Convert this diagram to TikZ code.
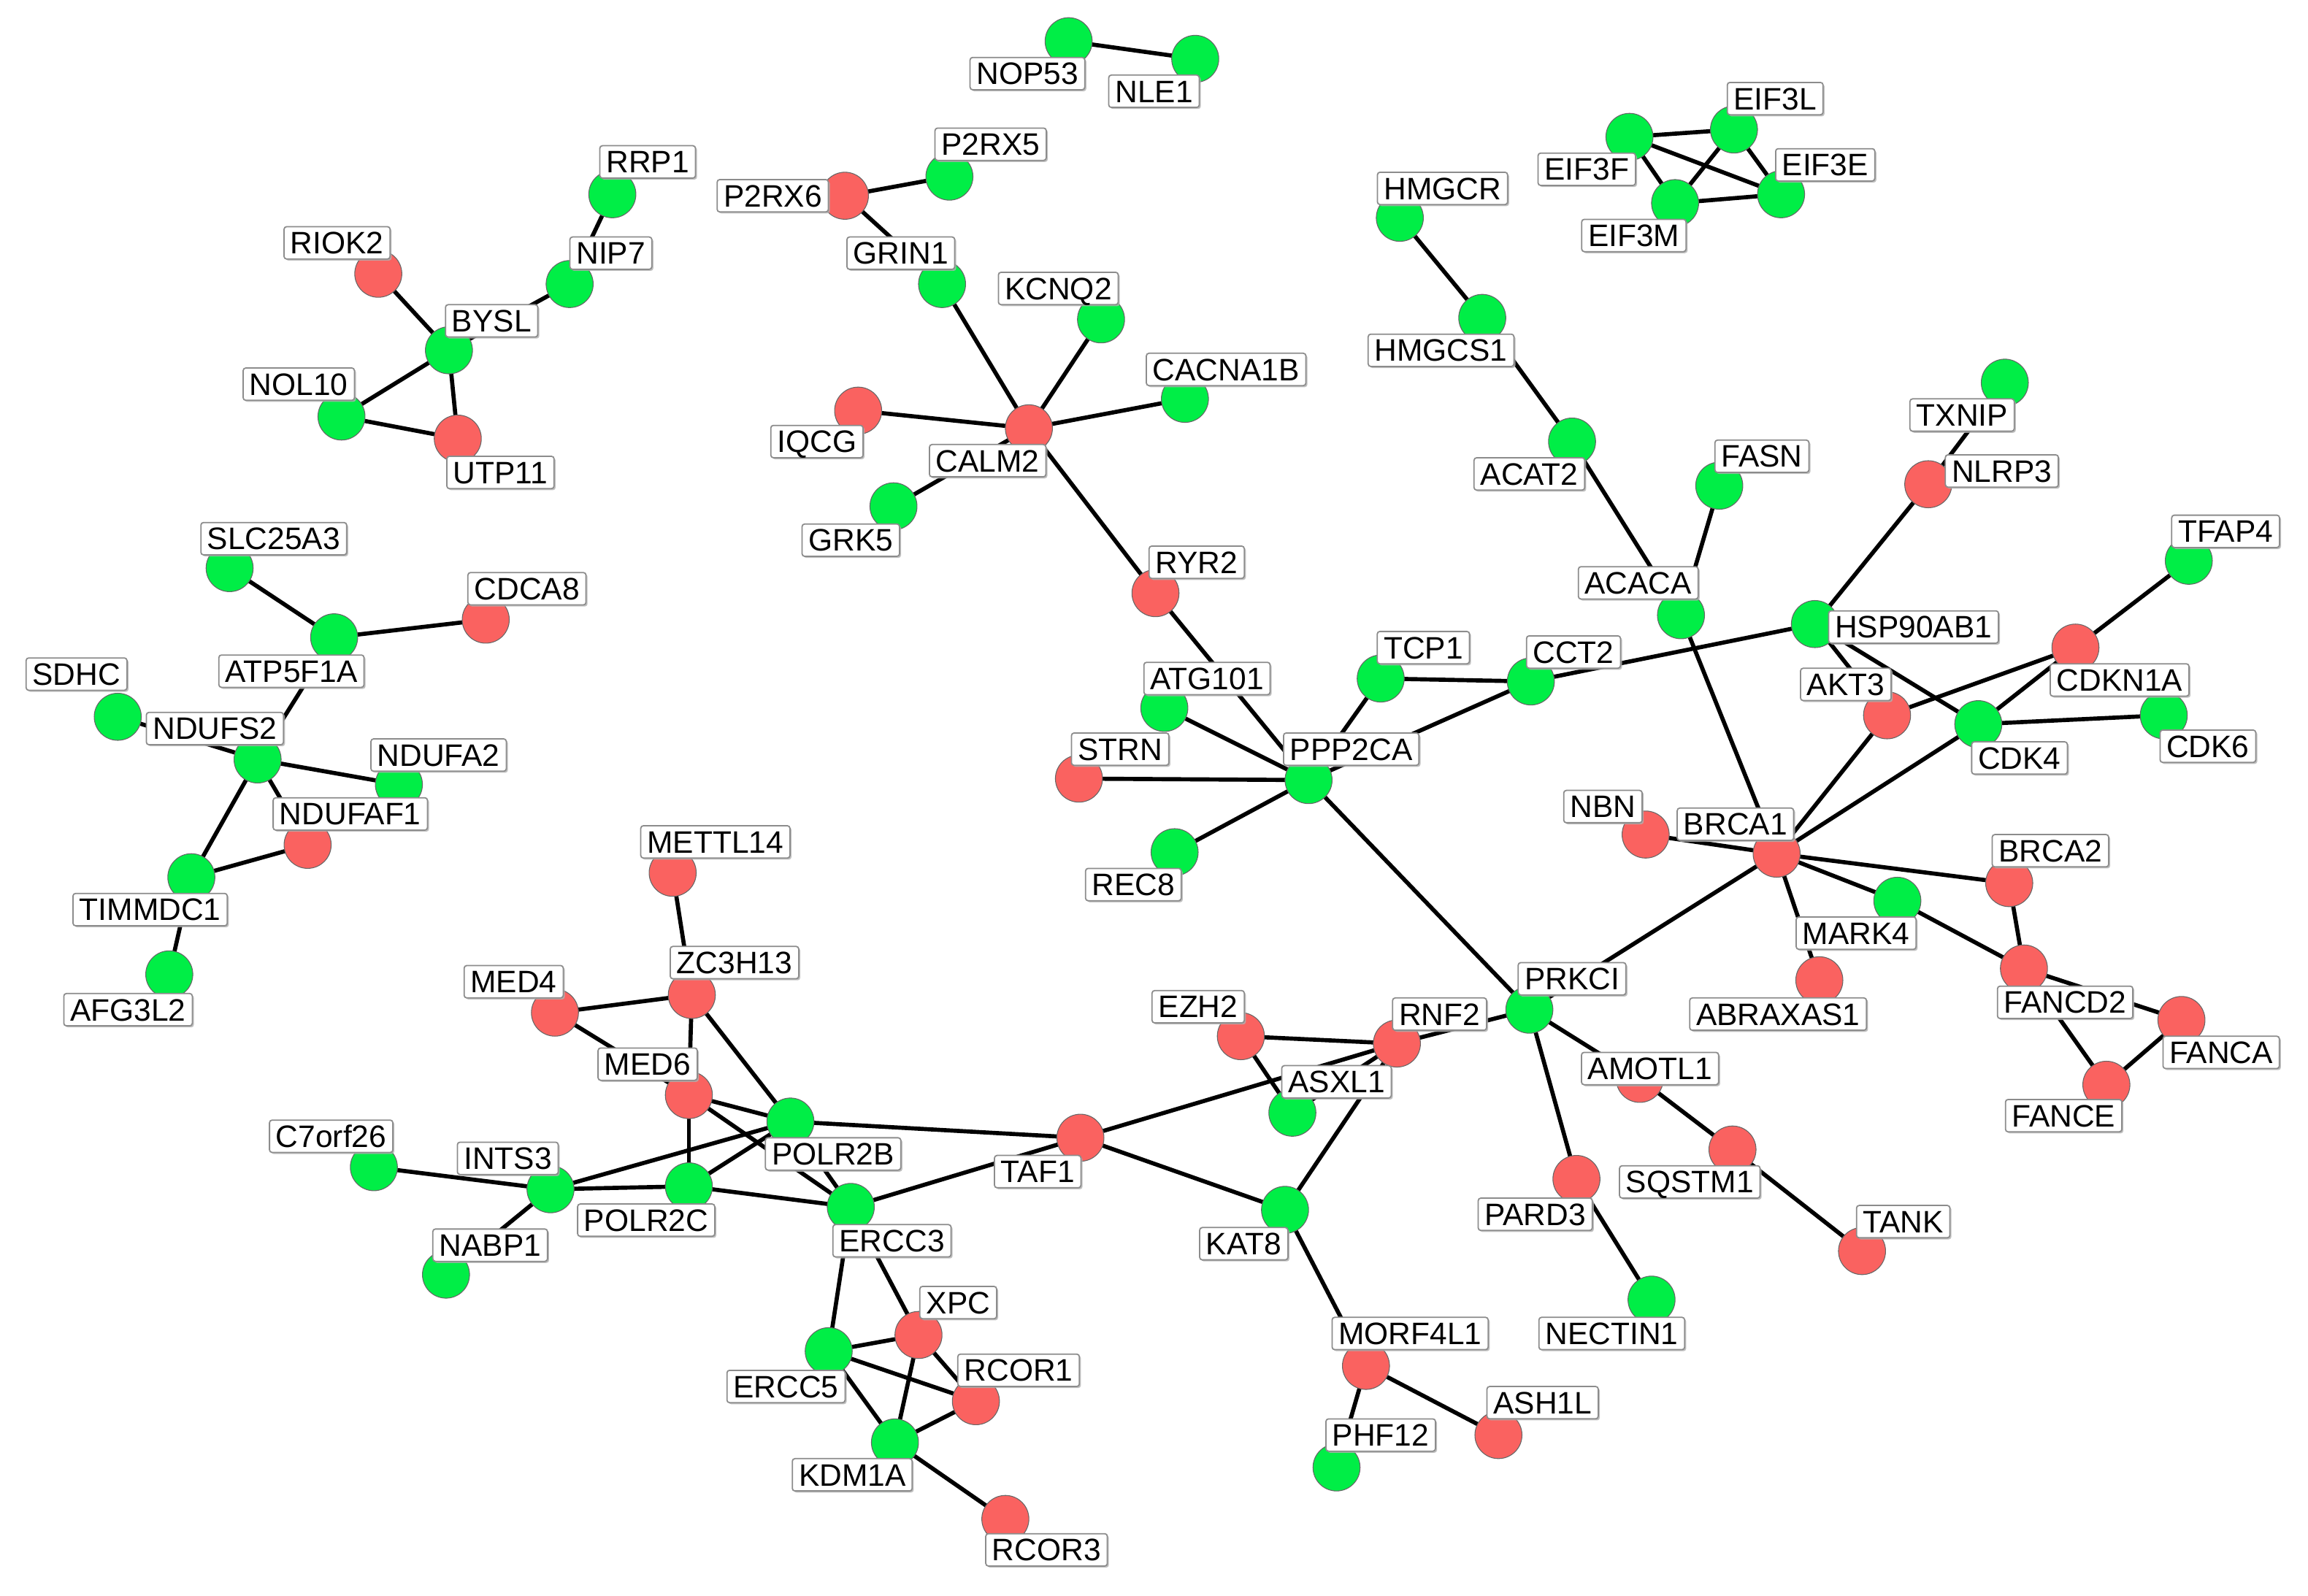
\documentclass[tikz,border=0pt]{standalone}
\usepackage{fontspec}
\setmainfont{Liberation Sans}
\usetikzlibrary{shadows}
\pgfdeclarelayer{bg}\pgfdeclarelayer{fg}
\pgfsetlayers{bg,main,fg}
\definecolor{gcol}{RGB}{0,238,70}
\definecolor{rcol}{RGB}{250,98,96}
\tikzset{
  g/.style={circle,draw=black!60,line width=0.3pt,fill=gcol,minimum size=0.64cm,inner sep=0pt},
  r/.style={circle,draw=black!60,line width=0.3pt,fill=rcol,minimum size=0.64cm,inner sep=0pt},
  lab/.style={draw=black!45,line width=0.5pt,fill=white,rounded corners=1pt,inner xsep=2.5pt,inner ysep=1.5pt,
     font=\fontsize{12}{13}\selectfont,text height=9pt,text depth=0.5pt,
     drop shadow={shadow xshift=0.6pt,shadow yshift=-0.6pt,fill=black!30,opacity=0.8}},
  e/.style={line width=1.6pt,black}
}
\newcommand\gn[7]{\node[#4] (#1) at (#2,#3) {};
  \begin{pgfonlayer}{fg}\node[lab] (#1-l) at (#5,#6) {#7};\end{pgfonlayer}}
\begin{document}
\begin{tikzpicture}[x=0.02cm,y=-0.02cm]
\useasboundingbox (0,0) rectangle (1568,1084);
\gn{NOP53}{726}{28}{g}{698}{50}{NOP53}
\gn{NLE1}{812}{40}{g}{784}{62}{NLE1}
\gn{EIF3L}{1178}{88}{g}{1206}{67}{EIF3L}
\gn{EIF3F}{1107}{93}{g}{1078}{115}{EIF3F}
\gn{EIF3E}{1210}{132}{g}{1240}{112}{EIF3E}
\gn{EIF3M}{1138}{138}{g}{1110}{160}{EIF3M}
\gn{RRP1}{416}{132}{g}{440}{110}{RRP1}
\gn{NIP7}{387}{193}{g}{415}{172}{NIP7}
\gn{RIOK2}{257}{186}{r}{229}{165}{RIOK2}
\gn{BYSL}{305}{238}{g}{334}{218}{BYSL}
\gn{NOL10}{232}{283}{g}{203}{261}{NOL10}
\gn{UTP11}{311}{298}{r}{340}{321}{UTP11}
\gn{P2RX5}{645}{120}{g}{673}{98}{P2RX5}
\gn{P2RX6}{574}{133}{r}{525}{133}{P2RX6}
\gn{GRIN1}{640}{193}{g}{612}{172}{GRIN1}
\gn{KCNQ2}{748}{217}{g}{719}{196}{KCNQ2}
\gn{CACNA1B}{805}{271}{g}{833}{251}{CACNA1B}
\gn{IQCG}{583}{279}{r}{555}{300}{IQCG}
\gn{CALM2}{699}{291}{r}{671}{313}{CALM2}
\gn{GRK5}{607}{344}{g}{578}{367}{GRK5}
\gn{RYR2}{785}{403}{r}{813}{382}{RYR2}
\gn{HMGCR}{951}{148}{g}{980}{128}{HMGCR}
\gn{HMGCS1}{1007}{216}{g}{979}{238}{HMGCS1}
\gn{ACAT2}{1068}{300}{g}{1039}{322}{ACAT2}
\gn{FASN}{1168}{330}{g}{1197}{310}{FASN}
\gn{ACACA}{1142}{418}{g}{1113}{396}{ACACA}
\gn{TXNIP}{1362}{260}{g}{1333}{282}{TXNIP}
\gn{NLRP3}{1310}{329}{r}{1360}{320}{NLRP3}
\gn{TFAP4}{1487}{381}{g}{1512}{361}{TFAP4}
\gn{HSP90AB1}{1233}{424}{g}{1300}{426}{HSP90AB1}
\gn{CDKN1A}{1410}{440}{r}{1440}{462}{CDKN1A}
\gn{AKT3}{1282}{486}{r}{1254}{465}{AKT3}
\gn{CDK4}{1344}{492}{g}{1372}{515}{CDK4}
\gn{CDK6}{1470}{486}{g}{1500}{507}{CDK6}
\gn{NBN}{1118}{567}{r}{1089}{548}{NBN}
\gn{BRCA1}{1207}{580}{r}{1179}{560}{BRCA1}
\gn{BRCA2}{1365}{600}{r}{1393}{578}{BRCA2}
\gn{MARK4}{1289}{612}{g}{1261}{634}{MARK4}
\gn{ABRAXAS1}{1236}{666}{r}{1208}{689}{ABRAXAS1}
\gn{FANCD2}{1375}{658}{r}{1403}{681}{FANCD2}
\gn{FANCA}{1482}{693}{r}{1509}{715}{FANCA}
\gn{FANCE}{1431}{737}{r}{1402}{758}{FANCE}
\gn{TCP1}{938}{461}{g}{967}{440}{TCP1}
\gn{CCT2}{1040}{463}{g}{1069}{443}{CCT2}
\gn{ATG101}{791}{481}{g}{820}{461}{ATG101}
\gn{STRN}{733}{529}{r}{761}{509}{STRN}
\gn{PPP2CA}{889}{530}{g}{918}{509}{PPP2CA}
\gn{REC8}{798}{579}{g}{770}{601}{REC8}
\gn{PRKCI}{1039}{686}{g}{1068}{665}{PRKCI}
\gn{RNF2}{949}{709}{r}{978}{689}{RNF2}
\gn{EZH2}{843}{704}{r}{814}{684}{EZH2}
\gn{ASXL1}{878}{756}{g}{908}{735}{ASXL1}
\gn{AMOTL1}{1114}{733}{r}{1121}{726}{AMOTL1}
\gn{SQSTM1}{1177}{781}{r}{1148}{803}{SQSTM1}
\gn{TANK}{1265}{850}{r}{1293}{830}{TANK}
\gn{PARD3}{1071}{801}{r}{1043}{825}{PARD3}
\gn{NECTIN1}{1122}{883}{g}{1095}{906}{NECTIN1}
\gn{KAT8}{873}{822}{g}{845}{845}{KAT8}
\gn{MORF4L1}{928}{928}{r}{958}{906}{MORF4L1}
\gn{ASH1L}{1018}{975}{r}{1048}{953}{ASH1L}
\gn{PHF12}{908}{997}{g}{938}{975}{PHF12}
\gn{METTL14}{457}{593}{r}{486}{572}{METTL14}
\gn{ZC3H13}{470}{676}{r}{499}{654}{ZC3H13}
\gn{MED4}{377}{688}{r}{349}{667}{MED4}
\gn{MED6}{468}{744}{r}{440}{723}{MED6}
\gn{POLR2B}{537}{762}{g}{566}{784}{POLR2B}
\gn{C7orf26}{254}{793}{g}{225}{772}{C7orf26}
\gn{INTS3}{374}{808}{g}{345}{787}{INTS3}
\gn{POLR2C}{468}{806}{g}{439}{829}{POLR2C}
\gn{NABP1}{303}{866}{g}{333}{846}{NABP1}
\gn{ERCC3}{578}{820}{g}{606}{843}{ERCC3}
\gn{TAF1}{734}{773}{r}{705}{796}{TAF1}
\gn{XPC}{624}{907}{r}{651}{885}{XPC}
\gn{ERCC5}{563}{918}{g}{534}{942}{ERCC5}
\gn{RCOR1}{663}{952}{r}{692}{931}{RCOR1}
\gn{KDM1A}{608}{980}{g}{579}{1002}{KDM1A}
\gn{RCOR3}{683}{1032}{r}{711}{1053}{RCOR3}
\gn{SLC25A3}{156}{386}{g}{186}{366}{SLC25A3}
\gn{ATP5F1A}{227}{433}{g}{198}{456}{ATP5F1A}
\gn{CDCA8}{330}{421}{r}{358}{400}{CDCA8}
\gn{SDHC}{80}{487}{g}{52}{458}{SDHC}
\gn{NDUFS2}{175}{516}{g}{146}{495}{NDUFS2}
\gn{NDUFA2}{271}{533}{g}{298}{513}{NDUFA2}
\gn{NDUFAF1}{209}{574}{r}{238}{553}{NDUFAF1}
\gn{TIMMDC1}{130}{596}{g}{102}{618}{TIMMDC1}
\gn{AFG3L2}{115}{662}{g}{87}{686}{AFG3L2}
\begin{pgfonlayer}{bg}
\foreach \a/\b in {NOP53/NLE1,
 EIF3F/EIF3L,EIF3F/EIF3E,EIF3F/EIF3M,EIF3L/EIF3M,EIF3L/EIF3E,EIF3M/EIF3E,
 RRP1/NIP7,NIP7/BYSL,RIOK2/BYSL,BYSL/NOL10,BYSL/UTP11,NOL10/UTP11,
 P2RX6/P2RX5,P2RX6/GRIN1,GRIN1/CALM2,CALM2/KCNQ2,CALM2/CACNA1B,CALM2/IQCG,CALM2/GRK5,CALM2/RYR2,RYR2/PPP2CA,
 HMGCR/HMGCS1,HMGCS1/ACAT2,ACAT2/ACACA,FASN/ACACA,ACACA/BRCA1,
 TXNIP/NLRP3,NLRP3/HSP90AB1,HSP90AB1/CCT2,HSP90AB1/AKT3,HSP90AB1/CDK4,
 AKT3/CDKN1A,CDK4/CDKN1A,CDK4/CDK6,TFAP4/CDKN1A,BRCA1/AKT3,BRCA1/CDK4,
 NBN/BRCA1,BRCA1/BRCA2,BRCA1/MARK4,BRCA1/ABRAXAS1,MARK4/FANCD2,BRCA2/FANCD2,
 FANCD2/FANCA,FANCD2/FANCE,FANCA/FANCE,BRCA1/PRKCI,
 TCP1/CCT2,TCP1/PPP2CA,CCT2/PPP2CA,ATG101/PPP2CA,STRN/PPP2CA,REC8/PPP2CA,PPP2CA/PRKCI,
 PRKCI/RNF2,PRKCI/AMOTL1,AMOTL1/SQSTM1,SQSTM1/TANK,PRKCI/PARD3,PARD3/NECTIN1,
 EZH2/RNF2,EZH2/ASXL1,ASXL1/RNF2,TAF1/RNF2,KAT8/RNF2,TAF1/KAT8,
 KAT8/MORF4L1,MORF4L1/ASH1L,MORF4L1/PHF12,
 METTL14/ZC3H13,MED4/ZC3H13,MED4/MED6,ZC3H13/MED6,ZC3H13/POLR2B,MED6/POLR2B,MED6/ERCC3,MED6/POLR2C,
 INTS3/POLR2B,INTS3/POLR2C,POLR2C/POLR2B,POLR2C/ERCC3,POLR2B/ERCC3,POLR2B/TAF1,ERCC3/TAF1,
 INTS3/C7orf26,INTS3/NABP1,
 ERCC3/ERCC5,ERCC3/XPC,ERCC5/XPC,ERCC5/RCOR1,ERCC5/KDM1A,XPC/KDM1A,XPC/RCOR1,RCOR1/KDM1A,KDM1A/RCOR3,
 SLC25A3/ATP5F1A,ATP5F1A/CDCA8,ATP5F1A/NDUFS2,SDHC/NDUFS2,NDUFS2/NDUFA2,NDUFS2/NDUFAF1,NDUFS2/TIMMDC1,
 TIMMDC1/NDUFAF1,TIMMDC1/AFG3L2}
 \draw[e] (\a.center) -- (\b.center);
\end{pgfonlayer}
\end{tikzpicture}
\end{document}
